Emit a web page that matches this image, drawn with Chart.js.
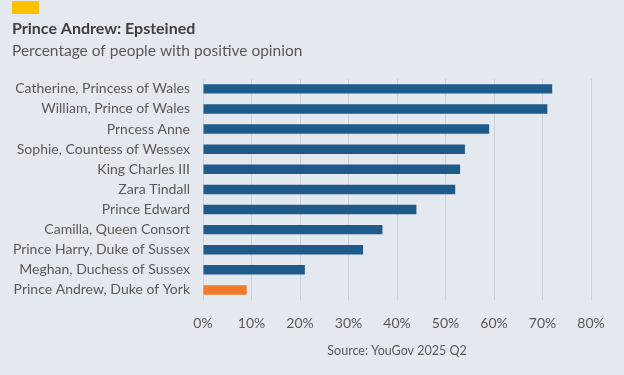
<!DOCTYPE html>
<html>
<head>
<meta charset="utf-8">
<script src="https://cdn.jsdelivr.net/npm/chart.js@4/dist/chart.umd.min.js"></script>
<style>
  html, body { margin: 0; padding: 0; width: 624px; height: 375px; overflow: hidden; background: #e4e8ef; }
  #wrap { position: relative; width: 624px; height: 375px; }
  #badge { position: absolute; left: 12px; top: 1px; width: 27px; height: 13px; background: #ffc000; }
  canvas { position: absolute; left: 0; top: 0; }
</style>
</head>
<body>
<div id="wrap">
  <div id="badge"></div>
  <canvas id="c" width="624" height="375"></canvas>
</div>
<script>
const categories = [
  "Catherine, Princess of Wales",
  "William, Prince of Wales",
  "Prncess Anne",
  "Sophie, Countess of Wessex",
  "King Charles III",
  "Zara Tindall",
  "Prince Edward",
  "Camilla, Queen Consort",
  "Prince Harry, Duke of Sussex",
  "Meghan, Duchess of Sussex",
  "Prince Andrew, Duke of York"
];
const positivePct = [72, 71, 59, 54, 53, 52, 44, 37, 33, 21, 9];
const highlight = "Prince Andrew, Duke of York";
const xTicks = [0, 10, 20, 30, 40, 50, 60, 70, 80];
const titleText = "Prince Andrew: Epsteined";
const subtitleText = "Percentage of people with positive opinion";
const sourceText = "Source: YouGov 2025 Q2";

const FONT = "Lato, 'Noto Sans', sans-serif";
const barColors = categories.map(c => c === highlight ? "#ef7b2a" : "#1e5a8a");

new Chart(document.getElementById("c"), {
  type: "bar",
  data: {
    labels: categories,
    datasets: [{
      data: positivePct,
      backgroundColor: barColors,
      borderWidth: 0,
      barPercentage: 0.47,
      categoryPercentage: 1
    }]
  },
  options: {
    indexAxis: "y",
    responsive: false,
    animation: false,
    layout: { padding: { left: 12, right: 33, top: 0, bottom: 0 } },
    plugins: {
      legend: { display: false },
      tooltip: { enabled: false },
      title: {
        display: true, text: titleText, align: "start",
        color: "#404040",
        font: { family: FONT, size: 16, weight: "bold" },
        padding: { top: 19, bottom: 0 }
      },
      subtitle: {
        display: true, text: subtitleText, align: "start",
        color: "#595959",
        font: { family: FONT, size: 15.5 },
        padding: { top: 3, bottom: 19 }
      }
    },
    scales: {
      x: {
        min: 0, max: 80,
        afterBuildTicks: s => { s.ticks = xTicks.map(v => ({ value: v })); },
        ticks: {
          callback: v => v + "%",
          color: "#595959",
          font: { family: FONT, size: 14 },
          padding: 15,
          maxRotation: 0
        },
        grid: { color: "#cfd1d6", drawTicks: false },
        border: { display: false },
        title: {
          display: true, text: sourceText, color: "#595959",
          font: { family: FONT, size: 12.5 },
          padding: { top: 10, bottom: 17 }
        },
        afterFit: s => { s.height = 75; }
      },
      y: {
        ticks: {
          color: "#595959",
          font: { family: FONT, size: 14 },
          padding: 13,
          autoSkip: false
        },
        grid: { display: false, drawTicks: false },
        border: { display: false },
        afterFit: s => { s.width = 191; }
      }
    }
  }
});
</script>
</body>
</html>
